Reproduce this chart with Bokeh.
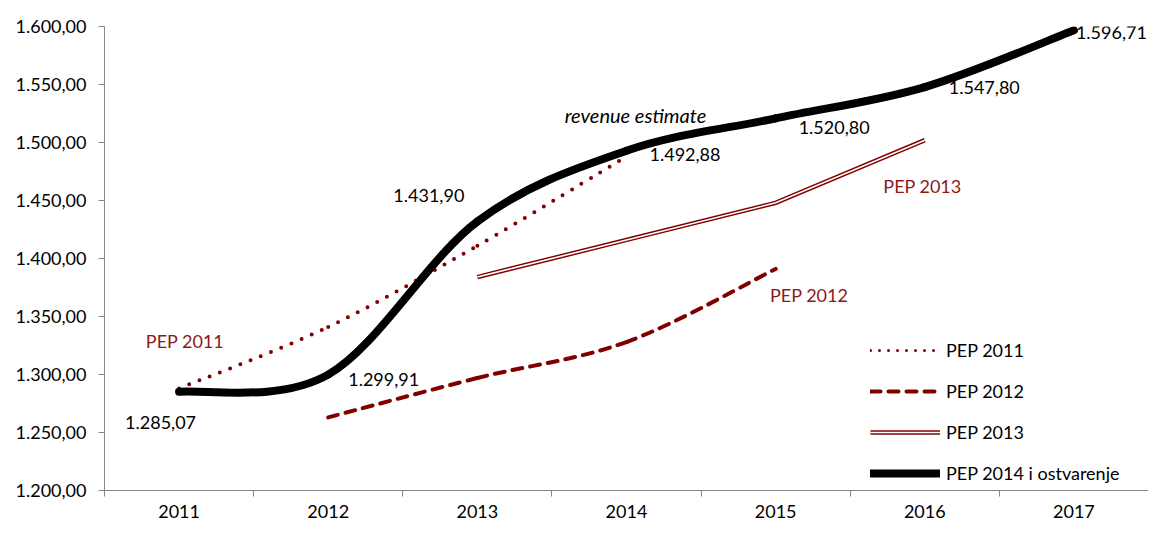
from bokeh.plotting import figure
from bokeh.models import Range1d, FixedTicker, Legend, LegendItem, ColumnDataSource
from bokeh.core.properties import value
from bokeh.embed import file_html
from bokeh.resources import INLINE

# ---------------- data ----------------
years = ["2011", "2012", "2013", "2014", "2015", "2016", "2017"]

pep2011_years = ["2011", "2012", "2013", "2014"]
pep2011 = [1288.0, 1341.0, 1411.0, 1488.0]

pep2012_years = ["2012", "2013", "2014", "2015"]
pep2012 = [1263.0, 1297.0, 1328.0, 1391.0]

pep2013_years = ["2013", "2014", "2015", "2016"]
pep2013 = [1384.0, 1416.0, 1448.0, 1502.0]

pep2014_years = ["2011", "2012", "2013", "2014", "2015", "2016", "2017"]
pep2014 = [1285.07, 1299.91, 1431.90, 1492.88, 1520.80, 1547.80, 1596.71]

y_ticks = [1200, 1250, 1300, 1350, 1400, 1450, 1500, 1550, 1600]
y_tick_labels = ["1.200,00", "1.250,00", "1.300,00", "1.350,00", "1.400,00",
                 "1.450,00", "1.500,00", "1.550,00", "1.600,00"]

series_names = ["PEP 2011", "PEP 2012", "PEP 2013", "PEP 2014 i ostvarenje"]
annotation_text = "revenue estimate"

# ---------------- styles / layout ----------------
FONT = "Lato"
MAROON = "#800000"
TEXT_RED = "#8b1a1a"
AXIS_GRAY = "#868686"
FS = "18px"

# pixel offsets of the value labels (left edge, vertical middle) from their points
value_label_offsets = [(-54, 31), (20, 5), (-84, -26), (23, 4), (23, 9), (24, 0), (2, 2)]
# free annotation anchor positions (category units, value units)
series_label_pos = {"PEP 2011": (1.04, 1329), "PEP 2012": (5.225, 1368.5), "PEP 2013": (5.985, 1462.5)}
annotation_pos = (4.06, 1523.5)


def xpos(labels):
    return [years.index(v) + 1 for v in labels]


def fmt(v):
    s = f"{v:,.2f}"
    return s.replace(",", "X").replace(".", ",").replace("X", ".")


def smooth_segments(xs, ys):
    """Excel-like smoothed line: cubic bezier control points from neighbours."""
    n = len(xs)
    d = dict(x0=[], y0=[], x1=[], y1=[], cx0=[], cy0=[], cx1=[], cy1=[])
    for i in range(n - 1):
        xm, ym = (xs[i - 1], ys[i - 1]) if i > 0 else (xs[i], ys[i])
        xp, yp = (xs[i + 2], ys[i + 2]) if i + 2 < n else (xs[i + 1], ys[i + 1])
        d["x0"].append(xs[i]); d["y0"].append(ys[i])
        d["x1"].append(xs[i + 1]); d["y1"].append(ys[i + 1])
        d["cx0"].append(xs[i] + (xs[i + 1] - xm) / 6.0)
        d["cy0"].append(ys[i] + (ys[i + 1] - ym) / 6.0)
        d["cx1"].append(xs[i + 1] - (xp - xs[i]) / 6.0)
        d["cy1"].append(ys[i + 1] - (yp - ys[i]) / 6.0)
    return ColumnDataSource(d)


p = figure(width=1148, height=520,
           x_range=Range1d(0.5, len(years) + 0.5),
           y_range=Range1d(y_ticks[0], y_ticks[-1]),
           output_backend="svg", toolbar_location=None,
           min_border_left=104, min_border_right=0, min_border_top=26, min_border_bottom=30)
p.outline_line_color = None
p.xgrid.visible = False
p.ygrid.visible = False
p.background_fill_color = "white"

# y axis
p.yaxis.ticker = FixedTicker(ticks=y_ticks, minor_ticks=[])
p.yaxis.major_label_overrides = {t: l for t, l in zip(y_ticks, y_tick_labels)}
p.yaxis.axis_line_color = AXIS_GRAY
p.yaxis.major_tick_line_color = AXIS_GRAY
p.yaxis.major_tick_out = 6
p.yaxis.major_tick_in = 0
p.yaxis.minor_tick_line_color = None
p.yaxis.major_label_standoff = 12
p.yaxis.major_label_text_font = FONT
p.yaxis.major_label_text_font_size = FS
p.yaxis.major_label_text_color = "black"

# x axis: labels at category centres, ticks between categories
centres = list(range(1, len(years) + 1))
bounds = [c - 0.5 for c in centres] + [len(years) + 0.5]
p.xaxis.ticker = FixedTicker(ticks=centres, minor_ticks=bounds)
p.xaxis.major_label_overrides = {c: y for c, y in zip(centres, years)}
p.xaxis.axis_line_color = AXIS_GRAY
p.xaxis.major_tick_line_color = None
p.xaxis.major_tick_out = 0
p.xaxis.major_tick_in = 0
p.xaxis.minor_tick_line_color = AXIS_GRAY
p.xaxis.minor_tick_out = 6
p.xaxis.minor_tick_in = 0
p.xaxis.major_label_standoff = 8
p.xaxis.major_label_text_font = FONT
p.xaxis.major_label_text_font_size = FS
p.xaxis.major_label_text_color = "black"

# PEP 2013: double line (straight segments)
x13 = xpos(pep2013_years)
r13a = p.line(x13, pep2013, line_color=MAROON, line_width=4.5, line_join="miter")
r13b = p.line(x13, pep2013, line_color="white", line_width=1.6, line_join="miter")

# PEP 2012: dashed smooth
p.bezier(x0="x0", y0="y0", x1="x1", y1="y1", cx0="cx0", cy0="cy0", cx1="cx1", cy1="cy1",
         source=smooth_segments(xpos(pep2012_years), pep2012),
         line_color=MAROON, line_width=4, line_dash="10 8", line_cap="round")

# PEP 2011: dotted smooth
p.bezier(x0="x0", y0="y0", x1="x1", y1="y1", cx0="cx0", cy0="cy0", cx1="cx1", cy1="cy1",
         source=smooth_segments(xpos(pep2011_years), pep2011),
         line_color=MAROON, line_width=4, line_dash="0 11", line_cap="round")

# PEP 2014 i ostvarenje: thick black smooth
p.bezier(x0="x0", y0="y0", x1="x1", y1="y1", cx0="cx0", cy0="cy0", cx1="cx1", cy1="cy1",
         source=smooth_segments(xpos(pep2014_years), pep2014),
         line_color="black", line_width=8, line_cap="round")

# hidden proxy renderers (same series) that only provide the legend samples
l11 = p.line(xpos(pep2011_years), pep2011, line_color=MAROON, line_width=3,
             line_dash="0 9", line_cap="round", visible=False)
l12 = p.line(xpos(pep2012_years), pep2012, line_color=MAROON, line_width=4,
             line_dash="10 8", line_cap="round", visible=False)
l14 = p.line(xpos(pep2014_years), pep2014, line_color="black", line_width=8,
             line_cap="round", visible=False)

# value labels of the black series
lab_src = ColumnDataSource(dict(
    x=xpos(pep2014_years), y=pep2014, text=[fmt(v) for v in pep2014],
    dx=[o[0] for o in value_label_offsets], dy=[o[1] for o in value_label_offsets]))
p.text(x="x", y="y", text="text", x_offset="dx", y_offset="dy", source=lab_src,
       text_font=value(FONT), text_font_size=FS, text_color="black",
       text_align="left", text_baseline="middle")

# series name labels
for name, (lx, ly) in series_label_pos.items():
    p.text(x=[lx], y=[ly], text=[name], text_font=value(FONT), text_font_size=FS,
           text_color=TEXT_RED, text_align="center", text_baseline="middle")

p.text(x=[annotation_pos[0]], y=[annotation_pos[1]], text=[annotation_text],
       text_font=value(FONT), text_font_size="20px", text_font_style="italic",
       text_color="black", text_align="center", text_baseline="middle")

legend = Legend(items=[
    LegendItem(label=series_names[0], renderers=[l11]),
    LegendItem(label=series_names[1], renderers=[l12]),
    LegendItem(label=series_names[2], renderers=[r13a, r13b]),
    LegendItem(label=series_names[3], renderers=[l14]),
], location=(766, 5), glyph_width=70, glyph_height=24, label_height=24,
    spacing=17, padding=0, label_standoff=6,
    border_line_alpha=0, background_fill_alpha=0,
    inactive_fill_alpha=0,
    label_text_font=FONT, label_text_font_size=FS, label_text_color="black")
p.add_layout(legend)

open("out.html", "w").write(file_html(p, INLINE))
